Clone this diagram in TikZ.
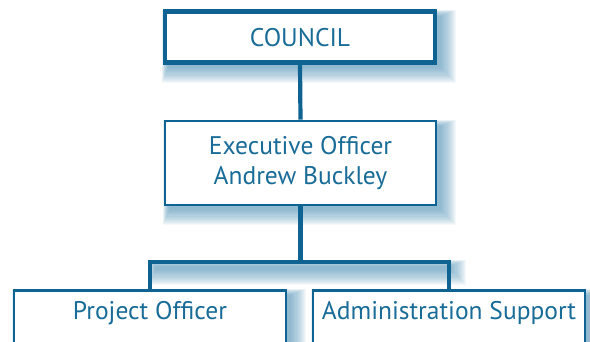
\documentclass[tikz,border=0pt]{standalone}
\usepackage{fontspec}
\setmainfont{PT Sans}
\definecolor{linec}{HTML}{0E6392}
\definecolor{textc}{HTML}{1A6C98}
\definecolor{shadc}{HTML}{3F86AE}
\tikzset{
  box/.style={draw=linec, fill=white, line width=2.6pt, text=textc, font=\fontsize{25.5}{30}\selectfont, align=center, inner sep=0pt},
  conn/.style={draw=linec, line width=4.2pt},
}
\newcommand{\softshadow}[4]{% x1 y1 x2 y2 (top-left, bottom-right)
  \foreach \i in {0,...,14}{
    \fill[shadc, opacity=0.055] ({#1+5-\i*0.45},{#2+6-\i*0.45}) rectangle ({#3+4+\i*1.1},{#4+4+\i*1.1});
  }
}
\begin{document}
\begin{tikzpicture}[x=1pt,y=-1pt]
\useasboundingbox (0,0) rectangle (590,342);
\clip (0,0) rectangle (590,342);
% shadows
\softshadow{163}{10}{437}{64}
\softshadow{164}{120}{437}{206}
\softshadow{13}{289}{287}{400}
\softshadow{312}{289}{586}{400}
\softshadow{150}{260}{447}{266}
% nodes
\node[box, line width=4.8pt, minimum width=270pt, minimum height=51pt, text height=20pt, text depth=0pt] (council) at (300,37) {COUNCIL};
\node[box, minimum width=271pt, minimum height=84pt] (exec) at (300.5,163) {Executive Officer\\Andrew Buckley};
\node[box, anchor=north, minimum width=272pt, text height=29pt, text depth=70pt] (po) at (150,289) {Project Officer};
\node[box, anchor=north, minimum width=272pt, text height=29pt, text depth=70pt] (as) at (449,289) {Administration Support};
\coordinate (bus) at (300.5,262);
% connectors
\draw[conn] (council.south) -- (exec.north);
\draw[conn] (exec.south) -- (bus);
\draw[conn] (po.north) |- (bus) -| (as.north);
\end{tikzpicture}
\end{document}
